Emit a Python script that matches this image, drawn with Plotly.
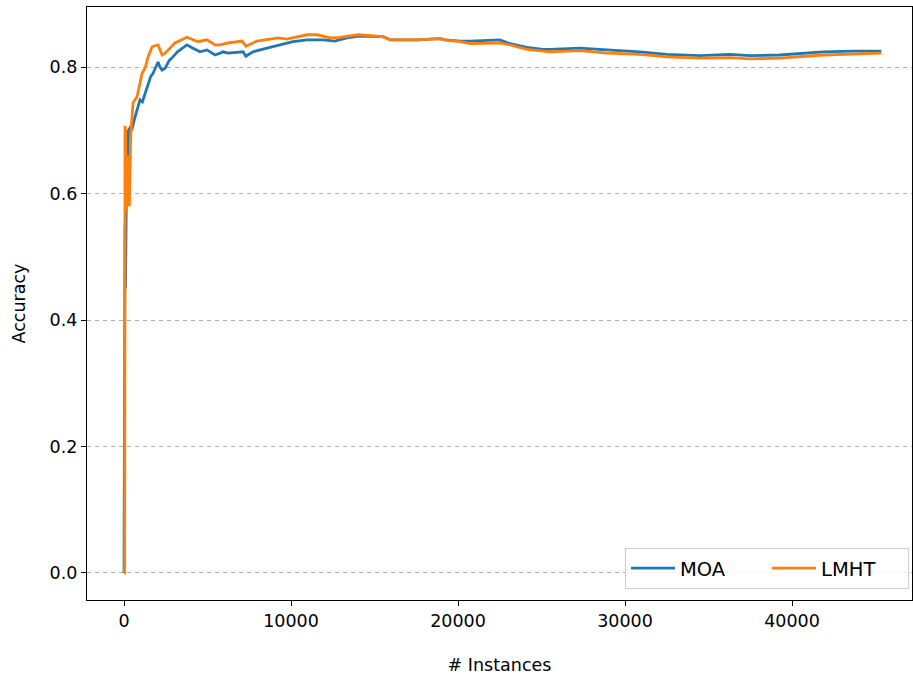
import plotly.graph_objects as go

# Prequential accuracy of two learners over the stream
moa_x = [0, 15, 30, 60, 90, 130, 170, 220, 280, 360, 460, 660, 800, 960, 1100, 1260,
         1440, 1600, 1740, 1900, 2040, 2150, 2280, 2460, 2700, 2930, 3200, 3500, 3770,
         4100, 4550, 4970, 5450, 5750, 5930, 6230, 6700, 7130, 7300, 7720, 8560, 9340,
         10120, 10960, 11920, 12630, 13350, 14010, 14910, 15510, 15930, 17540, 18920,
         19220, 20120, 20720, 22510, 23110, 24130, 25090, 25510, 27310, 28920, 30900,
         32510, 34490, 36290, 37500, 39280, 41860, 43650, 45350]
moa_acc = [0.0, 0.50, 0.33, 0.55, 0.45, 0.66, 0.70, 0.655, 0.70, 0.704, 0.70, 0.721,
           0.735, 0.748, 0.745, 0.759, 0.775, 0.785, 0.79, 0.80, 0.808, 0.80, 0.795,
           0.798, 0.81, 0.816, 0.824, 0.83, 0.835, 0.83, 0.824, 0.827, 0.819, 0.822,
           0.824, 0.822, 0.823, 0.824, 0.817, 0.824, 0.830, 0.835, 0.840, 0.843, 0.843,
           0.841, 0.846, 0.849, 0.849, 0.848, 0.843, 0.843, 0.845, 0.843, 0.841, 0.841,
           0.843, 0.837, 0.831, 0.828, 0.828, 0.830, 0.827, 0.824, 0.820, 0.818, 0.820,
           0.818, 0.819, 0.824, 0.825, 0.825]

lmht_x = [0, 40, 60, 100, 140, 200, 260, 320, 400, 480, 540, 780, 950, 1080, 1260,
          1440, 1680, 2040, 2280, 2460, 3050, 3770, 4430, 4970, 5450, 5750, 6230, 7070,
          7300, 7960, 9220, 9760, 10960, 11560, 12340, 12930, 14010, 14910, 15510,
          15930, 17540, 18920, 19220, 20120, 20720, 22510, 23110, 24130, 25090, 25510,
          27310, 28920, 30900, 32510, 34490, 36290, 37500, 39280, 41860, 43650, 45350]
lmht_acc = [0.0, 0.0, 0.707, 0.70, 0.57, 0.60, 0.66, 0.58, 0.69, 0.72, 0.743, 0.753,
            0.775, 0.79, 0.798, 0.816, 0.832, 0.835, 0.819, 0.822, 0.838, 0.847, 0.840,
            0.843, 0.835, 0.835, 0.838, 0.841, 0.833, 0.841, 0.846, 0.844, 0.851, 0.851,
            0.846, 0.847, 0.851, 0.849, 0.848, 0.843, 0.843, 0.845, 0.843, 0.840, 0.837,
            0.838, 0.835, 0.828, 0.825, 0.824, 0.826, 0.822, 0.820, 0.816, 0.814, 0.815,
            0.813, 0.814, 0.819, 0.820, 0.822]

y_ticks = [0.0, 0.2, 0.4, 0.6, 0.8]
x_ticks = [0, 10000, 20000, 30000, 40000]

FONT = "DejaVu Sans"

fig = go.Figure()
fig.add_trace(go.Scatter(x=moa_x, y=moa_acc, mode="lines", name="MOA",
                         line=dict(color="#1f77b4", width=2.8)))
fig.add_trace(go.Scatter(x=lmht_x, y=lmht_acc, mode="lines", name="LMHT",
                         line=dict(color="#ff7f0e", width=2.8)))

axis_common = dict(showline=True, linecolor="black", linewidth=1.2, mirror=True,
                   ticks="outside", ticklen=5, tickwidth=1.2, tickcolor="black",
                   zeroline=False, tickfont=dict(family=FONT, size=17.5, color="black"))

fig.update_xaxes(range=[-2216, 47186], tickvals=x_ticks,
                 ticktext=[str(v) for v in x_ticks], showgrid=False,
                 title=dict(text="# Instances", standoff=28,
                            font=dict(family=FONT, size=17.5, color="black")),
                 **axis_common)
fig.update_yaxes(range=[-0.0427, 0.8949], tickvals=y_ticks,
                 ticktext=[f"{v:.1f}" for v in y_ticks], showgrid=True,
                 gridcolor="#b0b0b0", gridwidth=1.2, griddash="4px,4px",
                 title=dict(text="Accuracy", standoff=19,
                            font=dict(family=FONT, size=17.5, color="black")),
                 **axis_common)

fig.update_layout(
    width=913, height=678,
    margin=dict(l=87, r=1, t=7, b=78),
    plot_bgcolor="white", paper_bgcolor="white",
    font=dict(family=FONT, size=17.5, color="black"),
    showlegend=True,
    legend=dict(orientation="h", x=0.9964, y=0.0185, xanchor="right", yanchor="bottom",
                bgcolor="rgba(255,255,255,0.8)", bordercolor="#cccccc", borderwidth=1,
                font=dict(family=FONT, size=19.5, color="black"),
                itemwidth=44, entrywidth=82, entrywidthmode="pixels"),
)

fig.write_html("out.html")
